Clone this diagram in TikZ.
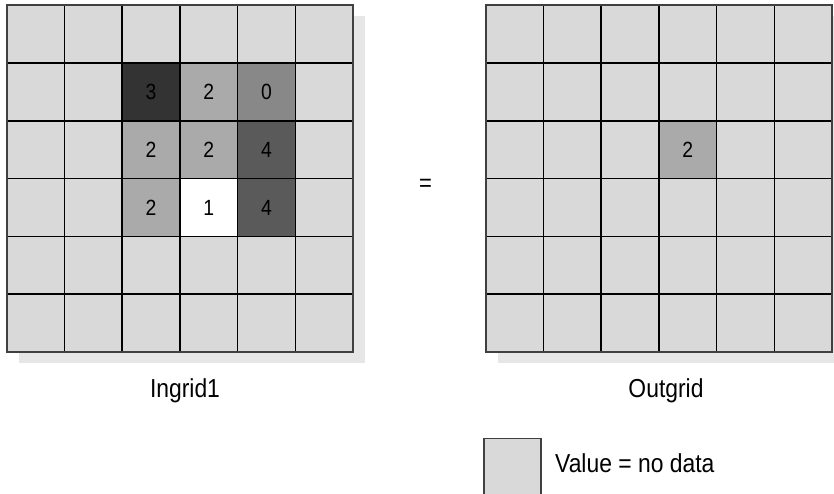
\documentclass[tikz,border=0pt]{standalone}
\usepackage{fontspec}
\setmainfont[FakeStretch=0.88]{Liberation Sans}
\usepackage{tikz}
\usetikzlibrary{positioning}
\definecolor{nodatagray}{HTML}{D9D9D9}
\definecolor{shadowgray}{HTML}{E6E6E6}
\definecolor{valthree}{HTML}{333333}
\definecolor{valtwo}{HTML}{AAAAAA}
\definecolor{valzero}{HTML}{888888}
\definecolor{valfour}{HTML}{5A5A5A}
\newcommand{\cellfont}{\fontsize{22}{26}\selectfont}
\newcommand{\capfont}{\fontsize{26}{31}\selectfont}

\begin{document}
\begin{tikzpicture}[
  x=1pt, y=1pt,
  gridline/.style={line width=1.5pt, black},
  border/.style={line width=2pt, black!75},
  valcell/.style={rectangle, draw=black, line width=1.5pt, minimum size=57.8pt,
                  inner sep=0pt, font=\cellfont},
  gridcap/.style={font=\capfont, anchor=base, inner sep=0pt},
  legbox/.style={rectangle, draw=black!75, line width=1.5pt, fill=nodatagray,
                 minimum width=57pt, minimum height=60pt, inner sep=0pt}
]
\clip (0,0) rectangle (834,494);

% Ingrid1
\begin{scope}[shift={(6.5,142)}]
  \fill[shadowgray] (12,-11) rectangle (358.8,335.8);
  \fill[nodatagray] (0,0) rectangle (346.8,346.8);
  \draw[gridline] (0,0) grid[step=57.8] (346.8,346.8);
  \foreach \r/\c/\v/\shade in {1/2/3/valthree, 1/3/2/valtwo, 1/4/0/valzero,
                               2/2/2/valtwo, 2/3/2/valtwo, 2/4/4/valfour,
                               3/2/2/valtwo, 3/3/1/white, 3/4/4/valfour}
    \node[valcell, fill=\shade] (in\r\c) at ({57.8*(\c+0.5)},{346.8-57.8*(\r+0.5)}) {\v};
  \draw[border] (0,0) rectangle (346.8,346.8);
\end{scope}

% Outgrid
\begin{scope}[shift={(485.5,142)}]
  \fill[shadowgray] (12,-11) rectangle (358.8,335.8);
  \fill[nodatagray] (0,0) rectangle (346.8,346.8);
  \draw[gridline] (0,0) grid[step=57.8] (346.8,346.8);
  \node[valcell, fill=valtwo] (out23) at ({57.8*3.5},{346.8-57.8*2.5}) {2};
  \draw[border] (0,0) rectangle (346.8,346.8);
\end{scope}

\node[font=\fontsize{25}{30}\selectfont, inner sep=0pt] (eq) at (425.5,309) {=};

\node[gridcap] (ingcap) at (185,96) {Ingrid1};
\node[gridcap] (outcap) at (666,96) {Outgrid};

% legend
\node[legbox, anchor=north west] (nodata) at (483,56) {};
\node[gridcap, anchor=base west] (nodatatext) at (555,21) {Value = no data};
\end{tikzpicture}
\end{document}
